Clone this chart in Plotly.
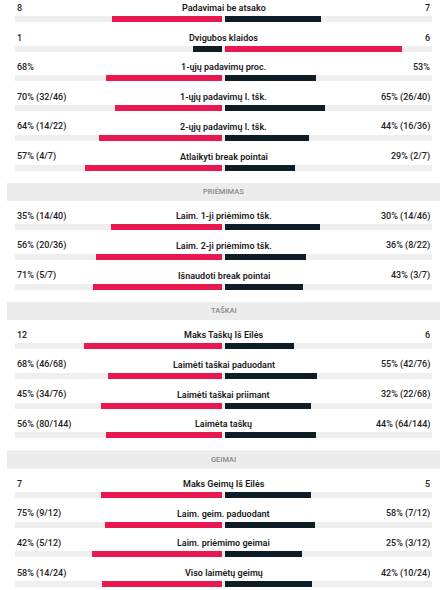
import plotly.graph_objects as go

# ---------------- data ----------------
stat_labels = [
    "Padavimai be atsako", "Dvigubos klaidos", "1-ųjų padavimų proc.",
    "1-ųjų padavimų l. tšk.", "2-ųjų padavimų l. tšk.", "Atlaikyti break pointai",
    "Laim. 1-ji priėmimo tšk.", "Laim. 2-ji priėmimo tšk.", "Išnaudoti break pointai",
    "Maks Taškų Iš Eilės", "Laimėti taškai paduodant", "Laimėti taškai priimant",
    "Laimėta taškų",
    "Maks Geimų Iš Eilės", "Laim. geim. paduodant", "Laim. priėmimo geimai",
    "Viso laimėtų geimų",
]
left_text = ["8", "1", "68%", "70% (32/46)", "64% (14/22)", "57% (4/7)",
             "35% (14/40)", "56% (20/36)", "71% (5/7)",
             "12", "68% (46/68)", "45% (34/76)", "56% (80/144)",
             "7", "75% (9/12)", "42% (5/12)", "58% (14/24)"]
right_text = ["7", "6", "53%", "65% (26/40)", "44% (16/36)", "29% (2/7)",
              "30% (14/46)", "36% (8/22)", "43% (3/7)",
              "6", "55% (42/76)", "32% (22/68)", "44% (64/144)",
              "5", "58% (7/12)", "25% (3/12)", "42% (10/24)"]
left_values = [8, 1, 68, 70, 64, 57, 35, 56, 71, 12, 68, 45, 56, 7, 75, 42, 58]
right_values = [7, 6, 53, 65, 44, 29, 30, 36, 43, 6, 55, 32, 44, 5, 58, 25, 42]
section_titles = ["PRIĖMIMAS", "TAŠKAI", "GEIMAI"]
section_start_rows = [6, 9, 13]

# ---------------- style ----------------
RED = "#ea1850"
DARK = "#0f1e26"
TRACK = "#eeeeee"
BAND = "#ececec"
W, H = 440, 590
STEP = 29.74
TOP = 8.0
BAR_OFF = 11.0
GAP = 0.006
FONT = "Roboto, Inter, sans-serif"

# layout of slots (rows + section headers)
row_text_y, header_y = [], []
slot = 0
for i in range(len(stat_labels)):
    if i in section_start_rows:
        header_y.append(TOP + slot * STEP + 5.5)
        slot += 1
    row_text_y.append(TOP + slot * STEP)
    slot += 1
bar_y = [y + BAR_OFF for y in row_text_y]

# x axis mapping: -1 -> px 15, +1 -> px 432
span = 2 * W / (432 - 15)
xmin = -1 - 15 * span / W
xmax = xmin + span

n = len(stat_labels)
left_frac = [l / (l + r) for l, r in zip(left_values, right_values)]
right_frac = [r / (l + r) for l, r in zip(left_values, right_values)]
left_col = [RED if l >= r else DARK for l, r in zip(left_values, right_values)]
right_col = [RED if r > l else DARK for l, r in zip(left_values, right_values)]

fig = go.Figure()
fig.add_trace(go.Bar(orientation="h", y=bar_y, x=[2] * n, base=-1, width=6,
                     marker=dict(color=TRACK, line=dict(width=0)), hoverinfo="skip"))
fig.add_trace(go.Bar(orientation="h", y=bar_y, x=[-f * (1 - GAP) for f in left_frac],
                     base=-GAP, width=6,
                     marker=dict(color=left_col, line=dict(width=0)), hoverinfo="skip"))
fig.add_trace(go.Bar(orientation="h", y=bar_y, x=[f * (1 - GAP) for f in right_frac],
                     base=GAP, width=6,
                     marker=dict(color=right_col, line=dict(width=0)), hoverinfo="skip"))

ann = []
font_val = dict(family=FONT, size=9, color="#222222", weight=500)
font_lab = dict(family=FONT, size=9, color="#1a1a1a", weight=600)
for i in range(n):
    ann.append(dict(x=-1, y=row_text_y[i], text=left_text[i], xanchor="left", yanchor="middle",
                    showarrow=False, font=font_val))
    ann.append(dict(x=1, y=row_text_y[i], text=right_text[i], xanchor="right", yanchor="middle",
                    showarrow=False, font=font_val))
    ann.append(dict(x=0, y=row_text_y[i], text=stat_labels[i], xanchor="center", yanchor="middle",
                    showarrow=False, font=font_lab))

shapes = []
band_x0 = xmin + 7 * span / W
for t, hy in zip(section_titles, header_y):
    shapes.append(dict(type="rect", xref="x", yref="y", x0=band_x0, x1=xmax,
                       y0=hy - 9, y1=hy + 9, fillcolor=BAND, line=dict(width=0), layer="below"))
    ann.append(dict(x=0, y=hy, text=t, xanchor="center", yanchor="middle", showarrow=False,
                    font=dict(family=FONT, size=7.5, color="#8a8a8a", weight=500)))

fig.update_layout(
    width=W, height=H, margin=dict(l=0, r=0, t=0, b=0),
    paper_bgcolor="white", plot_bgcolor="white",
    barmode="overlay", showlegend=False, bargap=0,
    xaxis=dict(range=[xmin, xmax], visible=False, fixedrange=True),
    yaxis=dict(range=[H, 0], visible=False, fixedrange=True),
    annotations=ann, shapes=shapes,
)
fig.write_html("out.html", config={"displayModeBar": False},
               post_script="document.body.style.margin='0';document.body.style.overflow='hidden';")
